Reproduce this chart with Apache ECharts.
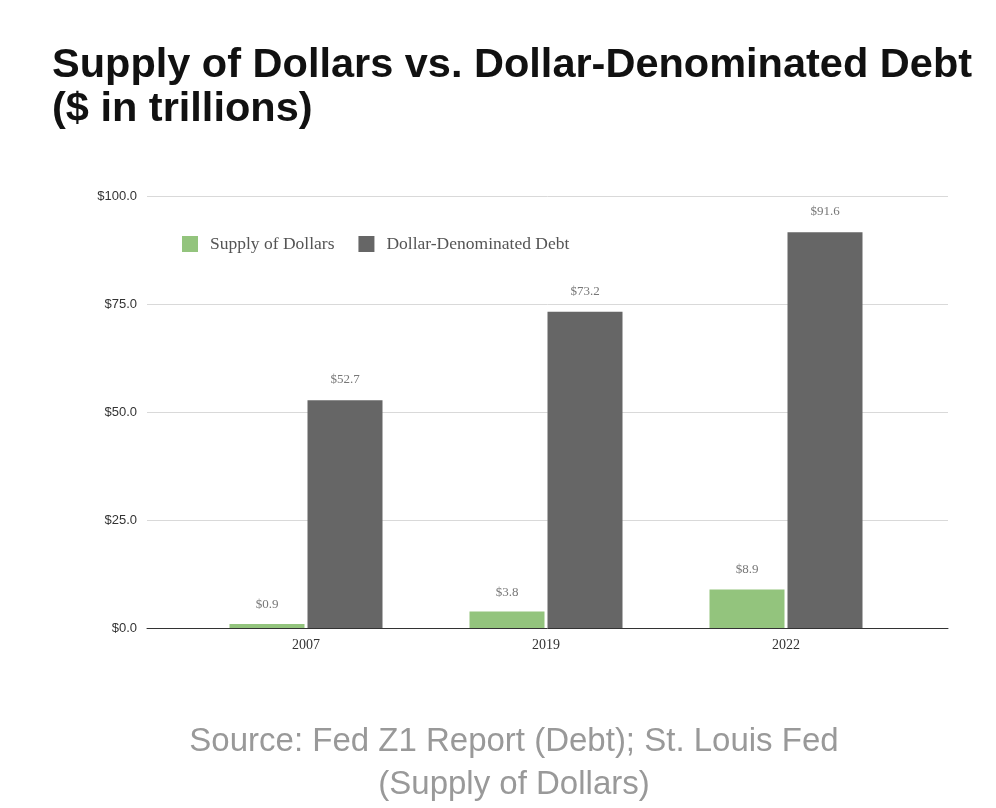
<!DOCTYPE html>
<html>
<head>
<meta charset="utf-8">
<script src="https://cdn.jsdelivr.net/npm/echarts@6/dist/echarts.min.js"></script>
<style>html,body{margin:0;padding:0;background:#fff;}#c{width:996px;height:808px;}</style>
</head>
<body>
<div id="c"></div>
<script>
var categories = ['2007', '2019', '2022'];
var supplyOfDollars = [0.9, 3.8, 8.9];
var dollarDebt = [52.7, 73.2, 91.6];
var yTicks = [0, 25, 50, 75, 100];

var chart = echarts.init(document.getElementById('c'));
var serif = '"Liberation Serif", "DejaVu Serif", serif';
var sans = '"Liberation Sans", Arial, sans-serif';
function money(v) { return '$' + Number(v).toFixed(1); }

chart.setOption({
  backgroundColor: '#ffffff',
  animation: false,
  title: [{
    text: 'Supply of Dollars vs. Dollar-Denominated Debt\n($ in trillions)',
    left: 47, top: 39,
    textStyle: { fontFamily: sans, fontSize: 41.5, fontWeight: 'bold', color: '#111', lineHeight: 44 }
  }, {
    text: 'Source: Fed Z1 Report (Debt); St. Louis Fed\n(Supply of Dollars)',
    left: 509, top: 715,
    textAlign: 'center',
    textStyle: { fontFamily: sans, fontSize: 33, fontWeight: 'normal', color: '#999', lineHeight: 43, align: 'center' }
  }],
  legend: {
    left: 177, top: 230,
    itemWidth: 16, itemHeight: 16, itemGap: 24,
    icon: 'rect',
    textStyle: { fontFamily: serif, fontSize: 17.5, color: '#555', padding: [0, 0, 0, 7] },
    data: ['Supply of Dollars', 'Dollar-Denominated Debt']
  },
  grid: [
    { left: 147, right: 48, top: 196, bottom: 180 },
    { left: 186, right: 90, top: 196, bottom: 180 }
  ],
  xAxis: [{
    gridIndex: 0, type: 'category', data: categories,
    axisLine: { show: true, lineStyle: { color: '#333', width: 1 } },
    axisTick: { show: false }, axisLabel: { show: false }
  }, {
    gridIndex: 1, type: 'category', data: categories,
    axisLine: { show: false }, axisTick: { show: false },
    axisLabel: { fontFamily: serif, fontSize: 14, color: '#333', margin: 10 }
  }],
  yAxis: [{
    gridIndex: 0, type: 'value', min: yTicks[0], max: yTicks[yTicks.length - 1], interval: 25,
    axisLine: { show: false }, axisTick: { show: false },
    axisLabel: { fontFamily: sans, fontSize: 13, color: '#333', margin: 10, formatter: money },
    splitLine: { lineStyle: { color: '#d9d9d9', width: 1 } }
  }, {
    gridIndex: 1, type: 'value', min: yTicks[0], max: yTicks[yTicks.length - 1], interval: 25,
    show: false, splitLine: { show: false }
  }],
  series: [{
    name: 'Supply of Dollars', type: 'bar', xAxisIndex: 1, yAxisIndex: 1,
    data: supplyOfDollars, barWidth: 75, barGap: '4%',
    itemStyle: { color: '#93c47d' },
    label: { show: true, position: 'top', distance: 13, fontFamily: serif, fontSize: 13, color: '#777', formatter: function (p) { return money(p.value); } }
  }, {
    name: 'Dollar-Denominated Debt', type: 'bar', xAxisIndex: 1, yAxisIndex: 1,
    data: dollarDebt, barWidth: 75, barGap: '4%',
    itemStyle: { color: '#666666' },
    label: { show: true, position: 'top', distance: 14, fontFamily: serif, fontSize: 13, color: '#777', formatter: function (p) { return money(p.value); } }
  }]
});
</script>
</body>
</html>
